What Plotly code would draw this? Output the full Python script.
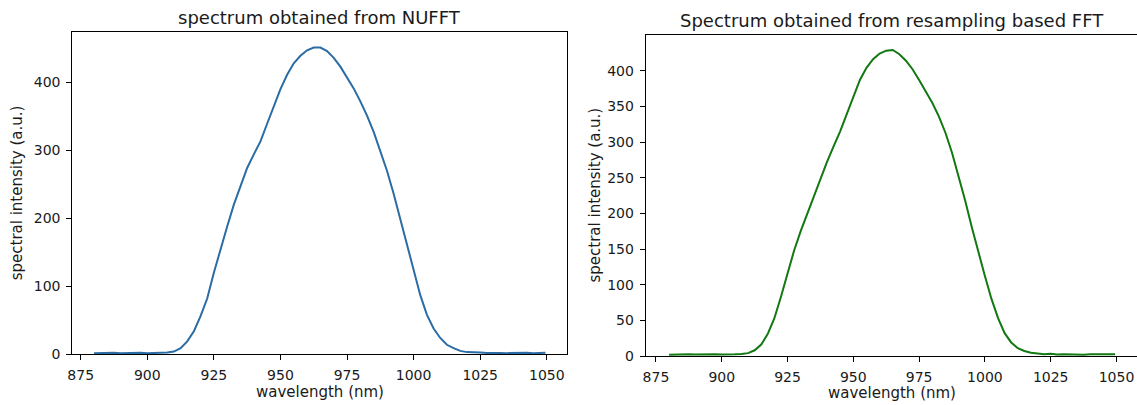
import plotly.graph_objects as go

W, H = 1137, 405

# ---- data ----
wavelength = [880, 882.5, 885, 887.5, 890, 892.5, 895, 897.5, 900, 902.5, 905, 907.5,
              910, 912.5, 915, 917.5, 920, 922.5, 925, 927.5, 930, 932.5, 935, 937.5,
              940, 942.5, 945, 947.5, 950, 952.5, 955, 957.5, 960, 962.5, 965, 967.5,
              970, 972.5, 975, 977.5, 980, 982.5, 985, 987.5, 990, 992.5, 995, 997.5,
              1000, 1002.5, 1005, 1007.5, 1010, 1012.5, 1015, 1017.5, 1020, 1022.5,
              1025, 1027.5, 1030, 1032.5, 1035, 1037.5, 1040, 1042.5, 1045, 1047.5, 1049.5]

nufft_intensity = [1.5, 2.0, 1.8, 2.2, 1.6, 2.1, 1.9, 2.3, 1.7, 2.0, 2.2, 2.8,
                   4, 9, 19, 34, 56, 82, 120, 155, 188, 220, 248, 274,
                   294, 313, 339, 366, 390, 411, 428, 439, 447, 451, 451, 446,
                   436, 423, 408, 391, 372, 351, 327, 300, 270, 236, 198, 160,
                   122, 87, 58, 38, 24, 14, 9, 5, 3.2, 2.4,
                   2.6, 1.9, 2.3, 2.0, 1.7, 2.2, 1.8, 2.1, 1.6, 2.0, 2.4]

resamp_intensity = [1.8, 2.3, 2.0, 2.6, 2.1, 2.4, 1.9, 2.5, 2.2, 1.9, 2.3, 2.8,
                    4, 8, 16, 31, 53, 83, 116, 148, 175, 199, 223, 249,
                    272, 294, 315, 339, 364, 387, 404, 416, 424, 428, 429, 423,
                    414, 402, 387, 371, 355, 336, 313, 285, 253, 218, 181, 145,
                    112, 80, 53, 32, 19, 11, 7, 4.5, 3.6, 2.4,
                    3.0, 2.2, 2.6, 2.1, 2.4, 1.9, 2.5, 2.2, 2.6, 2.0, 2.3]

x_ticks = [875, 900, 925, 950, 975, 1000, 1025, 1050]
y_ticks_left = [0, 100, 200, 300, 400]
y_ticks_right = [0, 50, 100, 150, 200, 250, 300, 350, 400]

title_left = "spectrum obtained from NUFFT"
title_right = "Spectrum obtained from resampling based FFT"
xlabel = "wavelength (nm)"
ylabel = "spectral intensity (a.u.)"

# ---- geometry (pixels) ----
L1, R1, T1, B1 = 72.3, 567.3, 32.3, 354.3
L2, R2, T2, B2 = 645.7, 1137.0, 35.0, 356.0

def px(x):
    return x / W

def py(y):
    return 1 - y / H

FONT = "DejaVu Sans"
TXT = "#1a1a1a"

fig = go.Figure()
fig.add_trace(go.Scatter(x=wavelength, y=nufft_intensity, mode="lines",
                         line=dict(color="#2a6ca3", width=2), xaxis="x", yaxis="y",
                         showlegend=False))
fig.add_trace(go.Scatter(x=wavelength, y=resamp_intensity, mode="lines",
                         line=dict(color="#127812", width=2), xaxis="x2", yaxis="y2",
                         showlegend=False))

axcommon = dict(showgrid=False, zeroline=False, showline=True, linecolor="black",
                linewidth=1, ticks="outside", ticklen=5, tickwidth=1, tickcolor="black",
                automargin=False,
                tickfont=dict(family=FONT, size=14, color=TXT))

fig.update_layout(
    width=W, height=H,
    margin=dict(l=0, r=0, t=0, b=0, autoexpand=False),
    paper_bgcolor="white", plot_bgcolor="white",
    xaxis=dict(domain=[px(L1), px(R1)], range=[871.85, 1057.7], tickvals=x_ticks,
               mirror=True, anchor="y", ticklabelstandoff=3, **axcommon),
    yaxis=dict(domain=[py(B1), py(T1)], range=[0, 473.5], tickvals=y_ticks_left,
               mirror=True, anchor="x", ticklabelstandoff=3, **axcommon),
    xaxis2=dict(domain=[px(L2), px(R2)], range=[871.1, 1057.8], tickvals=x_ticks,
                mirror=True, anchor="y2", ticklabelstandoff=3, **axcommon),
    yaxis2=dict(domain=[py(B2), py(T2)], range=[0, 450], tickvals=y_ticks_right,
                mirror=False, anchor="x2", ticklabelstandoff=3, **axcommon),
)

ann = []
def add_text(text, x, y, size, angle=0):
    ann.append(dict(text=text, x=px(x), y=py(y), xref="paper", yref="paper",
                    xanchor="center", yanchor="middle", showarrow=False,
                    textangle=angle, font=dict(family=FONT, size=size, color=TXT)))

add_text(title_left, (L1 + R1) / 2, 18, 18)
add_text(title_right, 892, 21, 18)
add_text(xlabel, (L1 + R1) / 2, 392, 15)
add_text(xlabel, 892, 393, 15)
add_text(ylabel, 17, (T1 + B1) / 2, 15, -90)
add_text(ylabel, 594, (T2 + B2) / 2, 15, -90)
fig.update_layout(annotations=ann)

fig.write_html("out.html")
